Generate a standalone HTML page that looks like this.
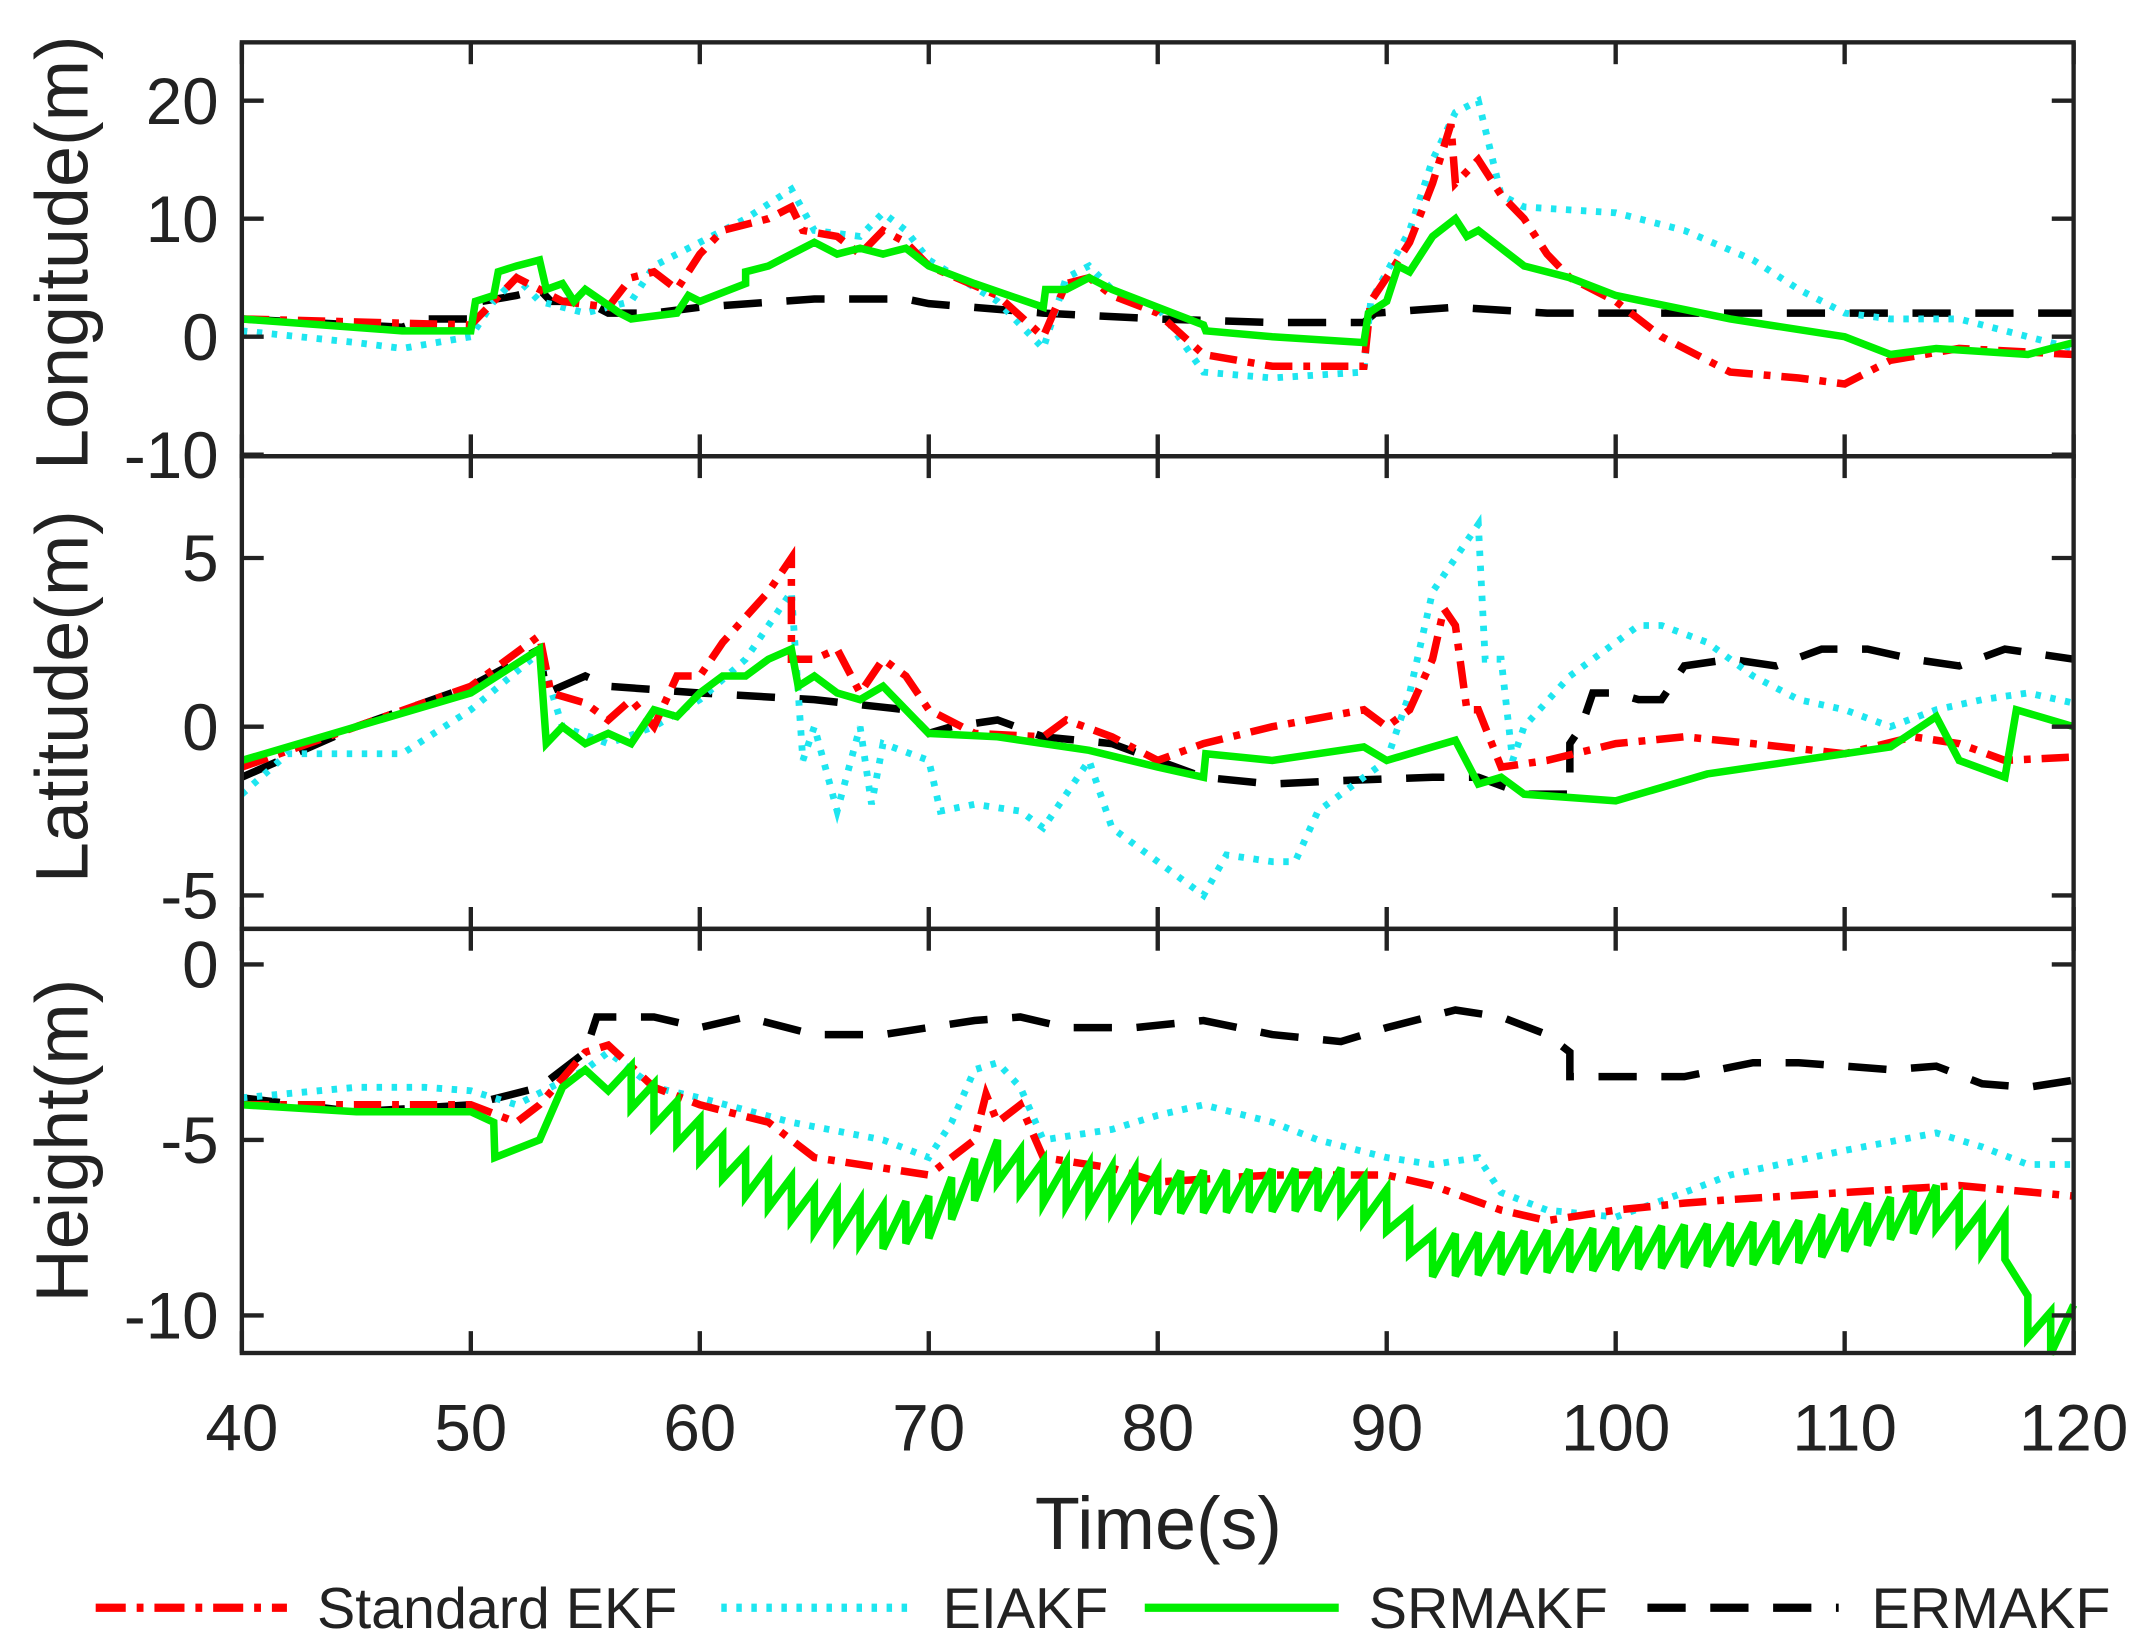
<!DOCTYPE html>
<html><head><meta charset="utf-8"><style>
html,body{margin:0;padding:0;background:#fff}
svg{display:block}
text{font-family:"Liberation Sans",Arial,sans-serif;fill:#222}
</style></head><body>
<svg id="s" width="2142" height="1646" viewBox="0 0 1568 1205" xmlns="http://www.w3.org/2000/svg">
<rect width="1568" height="1205" fill="#fff"/>
<g id="series"></g>
<g id="axes" stroke="#222" stroke-width="3.2" fill="none"></g>
<g id="labels" font-size="48"></g>
<text x="0" y="0" font-size="54" text-anchor="middle" transform="translate(64,185) rotate(-90)">Longitude(m)</text>
<text x="0" y="0" font-size="54" text-anchor="middle" transform="translate(64,510) rotate(-90)">Latitude(m)</text>
<text x="0" y="0" font-size="54" text-anchor="middle" transform="translate(64,835) rotate(-90)">Height(m)</text>
<text x="848" y="1134" font-size="54" text-anchor="middle">Time(s)</text>
<g font-size="42">
<line x1="70" y1="1177" x2="210" y2="1177" stroke="#f00" stroke-width="6" stroke-dasharray="22 8 5 8"/>
<text x="232" y="1192">Standard EKF</text>
<line x1="528" y1="1177" x2="668" y2="1177" stroke="#1ee6f0" stroke-width="6" stroke-dasharray="4 7"/>
<text x="690" y="1192">EIAKF</text>
<line x1="838" y1="1177" x2="980" y2="1177" stroke="#00ee00" stroke-width="6"/>
<text x="1002" y="1192">SRMAKF</text>
<line x1="1206" y1="1177" x2="1346" y2="1177" stroke="#000" stroke-width="6" stroke-dasharray="28 18"/>
<text x="1370" y="1192">ERMAKF</text>
</g>
</svg>
<script>
var NS="http://www.w3.org/2000/svg";
var X0=177,X1=1518;
function X(t){return X0+(t-40)*(X1-X0)/80;}
var P=[
 {top:31,bot:334,y0:246.5,k:8.64},
 {top:334,bot:680,y0:532,k:24.7},
 {top:680,bot:990.5,y0:706,k:25.7}
];
function el(tag,attrs,parent){var e=document.createElementNS(NS,tag);for(var a in attrs)e.setAttribute(a,attrs[a]);parent.appendChild(e);return e;}
var S={
 red:{c:"#f00",d:"20 8 5 8",w:5.5},
 cyan:{c:"#1ee6f0",d:"4 7",w:5},
 green:{c:"#00ee00",d:"",w:5.5},
 black:{c:"#000",d:"28 18",w:5.5}
};
function flat(a){var r=[];for(var i=0;i<a.length;i+=2)r.push([a[i],a[i+1]]);return r;}
function saw(pts,t0,t1,amp){
 function base(t){for(var i=1;i<pts.length;i++){if(t<=pts[i][0]){var a=pts[i-1],b=pts[i];var f=(t-a[0])/((b[0]-a[0])||1);return a[1]+f*(b[1]-a[1]);}}return pts[pts.length-1][1];}
 var r=[];pts.forEach(function(p){if(p[0]<t0)r.push(p);});
 for(var t=t0;t<t1;t+=1){r.push([t,base(t)-amp]);r.push([t+1,base(t+1)+amp]);}
 pts.forEach(function(p){if(p[0]>t1)r.push(p);});
 return r;
}
var D=[
{
black:flat([40,1.5,47,0.8,48,1.5,50,1.5,50.5,3,52,3.5,53,4,53.5,3,55,3,56,2,58,2,60,2.5,65,3.2,69,3.2,70,2.8,75,2,80,1.5,85,1.2,89,1.2,89.5,2,93,2.5,97,2,100,2,105,2,120,2]),
cyan:flat([40,0.5,45,-0.5,47,-1,50,0,51,3,52,5,53,3,55,2,57,3,58,6,60,8,62,10,64,12.5,65,9,67,8.5,68,10.5,69,9,70,6.5,73,3,75,-1,76,5,77,6,78,4,80,2.5,82,-3,85,-3.5,89,-3,89.3,3,91,9,92,15,93,19,94,20,94.5,16,95,12,96,11,100,10.5,103,9,106,6.5,108,4,110,2,112,1.5,115,1.5,118,0,120,-1]),
red:flat([40,1.5,50,1,51,3,52,5,53,4,54,3,56,2.5,57,5,58,5.5,59,4,60,7,61,9,63,10,64,11,64.5,9,66,8.5,67,7,68,9,69,8,70,6,73,3.5,75,0,76,4.5,77,5,78,3.5,80,2,82,-1.5,85,-2.5,89,-2.5,89.3,3,90,5,91,8,92,13,92.8,18,93,13,94,15,95,12,96,10,97,7,98,5,100,3,102,0,105,-3,108,-3.5,110,-4,112,-2,115,-1,120,-1.5]),
green:flat([40,1.5,47,0.5,50,0.5,50.2,3,51,3.5,51.2,5.5,52,6,53,6.5,53.3,4,54,4.5,54.5,3,55,4,56.5,2,57,1.5,59,2,59.5,3.5,60,3,62,4.5,62,5.5,63,6,64,7,65,8,66,7,67,7.5,68,7,69,7.5,70,6,72,4.5,75,2.5,75.1,4,76,4,77,5,78,4,80,2.5,82,1,82.1,0.5,85,0,89,-0.5,89.2,2,90,3,90.5,6,91,5.5,91.5,7,92,8.5,93,10,93.5,8.5,94,9,95,7.5,96,6,98,5,100,3.5,105,1.5,110,0,112,-1.5,114,-1,118,-1.5,120,-0.5])
},
{
black:flat([40,-1.5,45,0,50,1.2,53,2.3,53.3,1,55,1.5,56,1.2,60,1,65,0.8,69,0.5,70,-0.2,71,0,73,0.2,75,-0.3,78,-0.5,82,-1.5,85,-1.7,88,-1.6,92,-1.5,94,-1.5,96,-2,98,-2,98,-0.5,98.5,0,99,1,100,1,101,0.8,102,0.8,103,1.8,105,2,107,1.8,109,2.3,111,2.3,113,2,115,1.8,117,2.3,120,2]),
cyan:flat([40,-2,42,-0.8,45,-0.8,47,-0.8,50,0.5,53,2.2,54,0,56,-0.5,58,0,60,0.8,62,2,63,3,64,4,64.5,-1,65,0,66,-2.5,67,0,67.5,-2.3,68,-0.5,70,-1,70.5,-2.5,72,-2.3,74,-2.5,75,-3,76,-2,77,-1,78,-3,80,-4,81,-4.5,82,-5,83,-3.8,85,-4,86,-4,87,-2.5,89,-1.5,90,-1,91,1,92,4,93,5,94,6,94.3,2,95,2,95.5,-1,96,0,98,1.5,100,2.5,101,3,102,3,104,2.5,106,1.5,108,0.8,110,0.5,112,0,114,0.5,116,0.8,118,1,120,0.7]),
red:flat([40,-1.2,45,0,50,1.2,53,2.7,53.5,1,55,0.7,56,0.2,57,0.8,58,0,59,1.5,60,1.5,61,2.5,63,4,64,5,64,2,65,2,66,2.3,67,1,68,2,69,1.5,70,0.5,72,-0.2,75,-0.3,76,0.2,78,-0.3,80,-1,82,-0.5,85,0,89,0.5,90,0,91,0.5,92,2,92.5,3.5,93,3,93.5,0.5,94,0.5,95,-1.2,97,-1,100,-0.5,103,-0.3,106,-0.5,110,-0.8,113,-0.3,115,-0.5,117,-1,120,-0.9]),
green:flat([40,-1,45,0,50,1,53,2.3,53.3,-0.5,54,0,55,-0.5,56,-0.2,57,-0.5,58,0.5,59,0.3,60,1,61,1.5,62,1.5,63,2,64,2.3,64.3,1.2,65,1.5,66,1,67,0.8,68,1.2,69,0.5,70,-0.2,73,-0.3,77,-0.7,80,-1.2,82,-1.5,82.1,-0.8,85,-1,89,-0.6,90,-1,92,-0.6,93,-0.4,94,-1.7,95,-1.5,96,-2,100,-2.2,102,-1.8,104,-1.4,108,-1,112,-0.6,114,0.3,115,-1,117,-1.5,117.5,0.5,120,0])
},
{
black:flat([40,-3.8,45,-4.2,50,-4,53,-3.5,55,-2.5,55.5,-1.5,58,-1.5,60,-1.8,62,-1.5,65,-2,68,-2,72,-1.6,74,-1.5,76,-1.8,79,-1.8,82,-1.6,85,-2,88,-2.2,90,-1.8,93,-1.3,95,-1.5,97,-2,98,-2.5,98,-3.2,100,-3.2,103,-3.2,106,-2.8,108,-2.8,110,-2.9,112,-3,114,-2.9,116,-3.4,118,-3.5,120,-3.3]),
cyan:flat([40,-3.8,45,-3.5,48,-3.5,50,-3.6,52,-4,55,-3,56,-2.5,58,-3.5,60,-3.8,64,-4.5,68,-5,70,-5.5,71,-4.5,72,-3,73,-2.8,74,-3.5,75,-5,78,-4.7,80,-4.3,82,-4,85,-4.5,87,-5,90,-5.5,92,-5.7,94,-5.5,95,-6.5,97,-7,100,-7.2,103,-6.5,105,-6,110,-5.3,114,-4.8,116,-5.2,118,-5.7,120,-5.7]),
red:flat([40,-4,50,-4,52,-4.5,53,-4,55,-2.5,56,-2.3,58,-3.5,60,-4,63,-4.5,65,-5.5,68,-5.8,70,-6,72,-5,72.5,-3.7,73,-4.5,74,-4,75,-5.5,78,-5.8,80,-6.2,85,-6,90,-6,92,-6.3,95,-7,97,-7.3,100,-7,103,-6.8,105,-6.7,110,-6.5,115,-6.3,120,-6.6]),
green:saw(flat([40,-4,45,-4.2,50,-4.2,51,-4.5,51.05,-5.5,53,-5,54,-3.5,55,-3,56,-3,62,-6,65,-7,68,-7.5,70,-7.2,73,-5.6,75,-6.2,80,-6.5,88,-6.4,90,-7,92,-8.3,100,-8.1,108,-7.9,114,-6.9,116,-7.6,117,-7.8,117.05,-9.6,119,-10.5,120,-10.3]),56,120,0.6)
}];
var g=document.getElementById("series");
var order=["black","cyan","red","green"];
D.forEach(function(pd,i){
 var p=P[i];
 var cp=el("clipPath",{id:"c"+i},g);
 el("rect",{x:X0,y:p.top,width:X1-X0+8,height:p.bot-p.top+8},cp);
 var gg=el("g",{"clip-path":"url(#c"+i+")"},g);
 order.forEach(function(k){
  var s=S[k];
  var pts=pd[k].map(function(q){return X(q[0]).toFixed(1)+","+(p.y0-q[1]*p.k).toFixed(1);}).join(" ");
  var a={points:pts,fill:"none",stroke:s.c,"stroke-width":s.w,"stroke-linejoin":"miter"};
  if(s.d)a["stroke-dasharray"]=s.d;
  el("polyline",a,gg);
 });
});
var ax=document.getElementById("axes"),lb=document.getElementById("labels");
var yt=[[20,10,0,-10],[5,0,-5],[0,-5,-10]];
P.forEach(function(p,i){
 el("rect",{x:X0,y:p.top,width:X1-X0,height:p.bot-p.top},ax);
 for(var t=40;t<=120;t+=10){var x=X(t);
  el("line",{x1:x,y1:p.bot,x2:x,y2:p.bot-16},ax);
  el("line",{x1:x,y1:p.top,x2:x,y2:p.top+16},ax);}
 yt[i].forEach(function(v){var y=p.y0-v*p.k;
  if(y>p.top+1&&y<p.bot-1){el("line",{x1:X0,y1:y,x2:X0+16,y2:y},ax);el("line",{x1:X1,y1:y,x2:X1-16,y2:y},ax);}
  var tx=el("text",{x:160,y:y+17,"text-anchor":"end"},lb);tx.textContent=(v<0?"-":"")+Math.abs(v);
 });
});
for(var t=40;t<=120;t+=10){var tx=el("text",{x:X(t),y:1062,"text-anchor":"middle"},lb);tx.textContent=t;}
</script>
</body></html>
